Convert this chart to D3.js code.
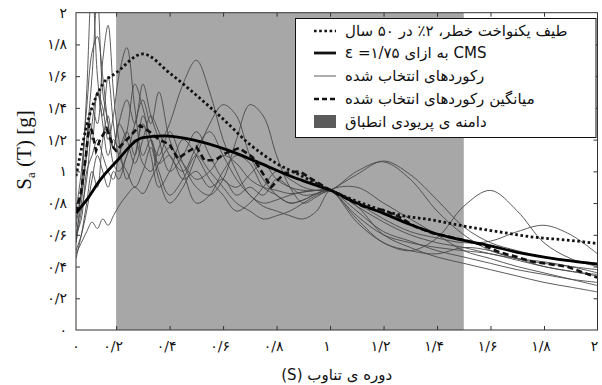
<!DOCTYPE html>
<html>
<head>
<meta charset="utf-8">
<script src="https://cdn.jsdelivr.net/npm/d3@7"></script>
<style>
  html, body { margin: 0; padding: 0; background: #fff; }
  svg { display: block; }
  .fa { font-family: "DejaVu Sans", sans-serif; }
</style>
</head>
<body>
<svg id="chart" width="602" height="385"></svg>
<script>
// Period axis (s) and spectral acceleration axis (g)
const xTicks = [0.05, 0.2, 0.4, 0.6, 0.8, 1.0, 1.2, 1.4, 1.6, 1.8, 2.0];
const xTickLabels = ["۰", "۰/۲", "۰/۴", "۰/۶", "۰/۸", "۱", "۱/۲", "۱/۴", "۱/۶", "۱/۸", "۲"];
const yTicks = [0, 0.2, 0.4, 0.6, 0.8, 1.0, 1.2, 1.4, 1.6, 1.8, 2.0];
const yTickLabels = ["۰", "۰/۲", "۰/۴", "۰/۶", "۰/۸", "۱", "۱/۲", "۱/۴", "۱/۶", "۱/۸", "۲"];

// Period range used for record matching
const matchRange = [0.2, 1.5];

// Uniform hazard spectrum (2% in 50 years)
const uhsT = [0.05, 0.1, 0.15, 0.2, 0.3, 0.4, 0.5, 0.6, 0.7, 0.8, 0.887, 1.0, 1.137, 1.26, 1.384, 1.496, 1.634, 1.758, 1.885, 2.0];
const uhsSa = [0.97, 1.35, 1.55, 1.62, 1.74, 1.62, 1.48, 1.33, 1.17, 1.05, 0.977, 0.882, 0.788, 0.725, 0.693, 0.656, 0.618, 0.586, 0.567, 0.545];

// Conditional mean spectrum (epsilon = 1.75)
const cmsT = [0.05, 0.09, 0.14, 0.2, 0.3, 0.376, 0.488, 0.615, 0.738, 0.86, 0.925, 1.0, 1.1, 1.2, 1.3, 1.4, 1.5, 1.6, 1.7, 1.8, 1.9, 2.0];
const cmsSa = [0.737, 0.82, 0.945, 1.06, 1.212, 1.223, 1.198, 1.135, 1.052, 0.964, 0.926, 0.882, 0.80, 0.735, 0.665, 0.605, 0.565, 0.53, 0.49, 0.46, 0.435, 0.415];

// Mean of the selected records
const meanT = [0.05, 0.07, 0.085, 0.1, 0.11, 0.125, 0.14, 0.165, 0.19, 0.2, 0.24, 0.29, 0.325, 0.36, 0.4, 0.43, 0.46, 0.5, 0.53, 0.57, 0.61, 0.66, 0.71, 0.74, 0.78, 0.83, 0.887, 0.925, 1.0, 1.07, 1.137, 1.2, 1.26, 1.32, 1.384, 1.5, 1.57, 1.634, 1.7, 1.758, 1.885, 1.94, 2.0];
const meanSa = [0.74, 0.88, 1.07, 1.3, 1.25, 1.13, 1.2, 1.27, 1.15, 1.13, 1.2, 1.29, 1.25, 1.2, 1.17, 1.08, 1.115, 1.155, 1.07, 1.07, 1.115, 1.147, 1.09, 1.01, 0.90, 0.99, 1.0, 0.958, 0.882, 0.82, 0.77, 0.756, 0.712, 0.65, 0.61, 0.567, 0.536, 0.49, 0.46, 0.43, 0.40, 0.366, 0.33];

// Selected ground-motion records (scaled), sampled at recPeriods
const recPeriods = [0.05, 0.07, 0.09, 0.11, 0.13, 0.15, 0.17, 0.19, 0.21, 0.24, 0.27, 0.3, 0.33, 0.36, 0.4, 0.45, 0.5, 0.55, 0.6, 0.65, 0.7, 0.75, 0.8, 0.85, 0.9, 0.95, 1.0, 1.1, 1.2, 1.3, 1.4, 1.5, 1.6, 1.7, 1.8, 1.9, 2.0];
const rec1 = [0.55, 0.9, 1.5, 2.2, 1.6, 1.3, 1.1, 1.2, 1.15, 1.25, 1.1, 1.35, 1.2, 1.05, 1.1, 0.95, 1.0, 0.9, 0.95, 0.85, 0.9, 0.85, 0.95, 0.9, 0.85, 0.86, 0.88, 0.7, 0.55, 0.5, 0.48, 0.52, 0.5, 0.45, 0.42, 0.4, 0.38];
const rec2 = [0.6, 0.8, 1.2, 1.6, 2.1, 1.5, 1.3, 1.05, 1.0, 1.1, 1.3, 1.45, 1.3, 1.5, 1.2, 1.0, 0.8, 0.85, 1.0, 1.1, 1.05, 0.9, 0.85, 0.8, 0.82, 0.86, 0.88, 0.78, 0.68, 0.6, 0.55, 0.52, 0.48, 0.45, 0.43, 0.4, 0.36];
const rec3 = [0.7, 0.85, 1.1, 1.4, 1.3, 1.7, 1.92, 1.5, 1.2, 0.95, 1.1, 1.3, 1.1, 0.9, 1.0, 1.2, 1.1, 0.95, 0.85, 0.75, 0.8, 0.9, 1.0, 0.95, 0.9, 0.88, 0.88, 1.0, 1.06, 0.95, 0.75, 0.6, 0.5, 0.45, 0.4, 0.37, 0.35];
const rec4 = [0.65, 0.9, 1.3, 1.2, 1.5, 1.4, 1.2, 1.35, 1.6, 1.78, 1.4, 1.1, 1.2, 1.0, 0.85, 0.95, 1.1, 1.0, 0.9, 0.8, 0.75, 0.7, 0.72, 0.75, 0.8, 0.85, 0.88, 0.98, 1.065, 0.98, 0.82, 0.65, 0.55, 0.5, 0.46, 0.44, 0.42];
const rec5 = [0.5, 0.6, 0.75, 0.95, 1.1, 1.0, 0.9, 1.0, 0.95, 1.1, 1.2, 1.05, 1.0, 1.15, 1.3, 1.55, 1.7, 1.5, 1.2, 1.0, 0.85, 0.8, 0.82, 0.85, 0.87, 0.88, 0.88, 0.72, 0.6, 0.55, 0.52, 0.5, 0.48, 0.44, 0.4, 0.37, 0.34];
const rec6 = [0.55, 0.75, 0.95, 1.3, 1.5, 1.35, 1.6, 1.3, 1.1, 1.0, 0.9, 1.0, 1.15, 0.95, 0.8, 0.9, 1.1, 1.3, 1.42, 1.35, 1.1, 0.95, 0.85, 0.8, 0.82, 0.86, 0.88, 0.68, 0.55, 0.5, 0.58, 0.78, 0.88, 0.75, 0.55, 0.45, 0.4];
const rec7 = [0.6, 0.7, 1.0, 1.1, 1.2, 1.1, 1.0, 0.95, 1.1, 1.25, 1.55, 1.4, 1.2, 1.1, 1.25, 1.05, 0.9, 0.85, 0.95, 1.2, 1.42, 1.35, 1.1, 0.9, 0.8, 0.84, 0.88, 0.8, 0.7, 0.62, 0.58, 0.55, 0.56, 0.62, 0.66, 0.6, 0.48];
const rec8 = [0.48, 0.55, 0.62, 0.68, 0.64, 0.7, 0.66, 0.72, 0.78, 0.85, 0.9, 0.86, 0.95, 1.05, 1.15, 1.05, 0.95, 1.0, 1.1, 1.05, 0.95, 0.9, 0.88, 0.86, 0.87, 0.88, 0.88, 0.75, 0.62, 0.56, 0.5, 0.46, 0.42, 0.38, 0.35, 0.32, 0.3];
const rec9 = [0.75, 1.0, 1.4, 1.75, 1.85, 1.6, 1.3, 1.15, 1.3, 1.2, 1.05, 1.2, 1.35, 1.25, 1.1, 1.0, 1.15, 1.25, 1.1, 0.95, 0.85, 0.78, 0.75, 0.72, 0.7, 0.75, 0.88, 0.9, 0.8, 0.7, 0.6, 0.5, 0.45, 0.4, 0.36, 0.32, 0.28];
const rec10 = [0.45, 0.6, 0.8, 1.0, 0.9, 1.2, 1.35, 1.15, 1.3, 1.45, 1.3, 1.55, 1.35, 1.2, 1.0, 1.1, 1.25, 1.1, 0.95, 0.9, 0.98, 1.05, 0.95, 0.9, 0.88, 0.88, 0.88, 0.78, 0.6, 0.52, 0.46, 0.42, 0.38, 0.34, 0.3, 0.27, 0.24];
const records = [rec1, rec2, rec3, rec4, rec5, rec6, rec7, rec8, rec9, rec10];

// Legend entries; the mixed-script entry is written in left-to-right display order
const legendLabels = [
  { text: "طیف یکنواخت خطر، ۲٪ در ۵۰ سال", rtl: true },
  { text: "ε =۱/۷۵  به ازای CMS", rtl: false },
  { text: "رکوردهای انتخاب شده", rtl: true },
  { text: "میانگین رکوردهای انتخاب شده", rtl: true },
  { text: "دامنه ی پریودی انطباق", rtl: true }
];
const xTitle = "(S) دوره ی تناوب";

// right-to-left embedding for Persian strings
const rtl = s => "\u202B" + s + "\u202C";

const svg = d3.select("#chart");
const margin = { left: 76, right: 4.5, top: 12.7, bottom: 55 };
const W = 602, H = 385;
const x = d3.scaleLinear().domain([0.05, 2]).range([margin.left, W - margin.right]);
const y = d3.scaleLinear().domain([0, 2]).range([H - margin.bottom, margin.top]);

const defs = svg.append("defs");
defs.append("clipPath").attr("id", "plotClip")
  .append("rect")
  .attr("x", x(0.05)).attr("y", y(2))
  .attr("width", x(2) - x(0.05)).attr("height", y(0) - y(2));

const plot = svg.append("g").attr("clip-path", "url(#plotClip)");

// shaded matching range
plot.append("rect")
  .attr("x", x(matchRange[0])).attr("y", y(2))
  .attr("width", x(matchRange[1]) - x(matchRange[0]))
  .attr("height", y(0) - y(2))
  .attr("fill", "#a7a7a7");

const toPts = (ts, vs) => ts.map((t, i) => [t, vs[i]]);
const lineSmooth = d3.line().x(d => x(d[0])).y(d => y(d[1])).curve(d3.curveCatmullRom.alpha(0.5));
const lineMono = d3.line().x(d => x(d[0])).y(d => y(d[1])).curve(d3.curveMonotoneX);
const lineStraight = d3.line().x(d => x(d[0])).y(d => y(d[1]));

// individual records
plot.selectAll("path.rec").data(records).join("path")
  .attr("class", "rec")
  .attr("d", r => lineSmooth(toPts(recPeriods, r)))
  .attr("fill", "none").attr("stroke", "#4a4a4a").attr("stroke-width", 0.9);

// mean of records
plot.append("path")
  .attr("d", lineStraight(toPts(meanT, meanSa)))
  .attr("fill", "none").attr("stroke", "#111").attr("stroke-width", 2.6)
  .attr("stroke-dasharray", "6,3.5");

// CMS
plot.append("path")
  .attr("d", lineMono(toPts(cmsT, cmsSa)))
  .attr("fill", "none").attr("stroke", "#000").attr("stroke-width", 2.8);

// UHS
plot.append("path")
  .attr("d", lineMono(toPts(uhsT, uhsSa)))
  .attr("fill", "none").attr("stroke", "#111").attr("stroke-width", 2.8)
  .attr("stroke-dasharray", "2.6,2.6");

// frame
svg.append("rect")
  .attr("x", x(0.05)).attr("y", y(2))
  .attr("width", x(2) - x(0.05)).attr("height", y(0) - y(2))
  .attr("fill", "none").attr("stroke", "#333").attr("stroke-width", 1);

// axes with inward ticks
const tickLen = 4;
const xb = svg.append("g").attr("transform", `translate(0,${y(0)})`)
  .call(d3.axisBottom(x).tickValues(xTicks.slice(1, -1)).tickSize(-tickLen).tickFormat(""));
const xt = svg.append("g").attr("transform", `translate(0,${y(2)})`)
  .call(d3.axisTop(x).tickValues(xTicks.slice(1, -1)).tickSize(-tickLen).tickFormat(""));
const yl = svg.append("g").attr("transform", `translate(${x(0.05)},0)`)
  .call(d3.axisLeft(y).tickValues(yTicks.slice(1, -1)).tickSize(-tickLen).tickFormat(""));
const yr = svg.append("g").attr("transform", `translate(${x(2)},0)`)
  .call(d3.axisRight(y).tickValues(yTicks.slice(1, -1)).tickSize(-tickLen).tickFormat(""));
[xb, xt, yl, yr].forEach(g => {
  g.select(".domain").remove();
  g.selectAll("line").attr("stroke", "#333");
});

// tick labels
svg.append("g").selectAll("text").data(xTicks).join("text")
  .attr("class", "fa")
  .attr("x", (d, i) => x(d) - (i === 0 ? 0 : 3))
  .attr("y", 351)
  .attr("text-anchor", "middle")
  .attr("font-size", 14)
  .attr("fill", "#111")
  .text((d, i) => xTickLabels[i]);

svg.append("g").selectAll("text").data(yTicks).join("text")
  .attr("class", "fa")
  .attr("x", 67)
  .attr("y", d => y(d) + 5)
  .attr("text-anchor", "end")
  .attr("font-size", 14)
  .attr("fill", "#111")
  .text((d, i) => yTickLabels[i]);

// axis titles
svg.append("text")
  .attr("class", "fa")
  .attr("x", (x(0.05) + x(2)) / 2)
  .attr("y", 380)
  .attr("text-anchor", "middle")
  .attr("font-size", 15)
  .attr("fill", "#111")
  .text(xTitle);

const yTitle = svg.append("text")
  .attr("transform", "translate(31,150) rotate(-90)")
  .attr("text-anchor", "middle")
  .attr("font-family", "'Liberation Serif', serif")
  .attr("font-size", 21)
  .attr("fill", "#111");
yTitle.append("tspan").text("S");
yTitle.append("tspan").attr("font-size", 13).attr("dy", 4).text("a");
yTitle.append("tspan").attr("dy", -4).text(" (T) [g]");

// legend
const lg = svg.append("g");
lg.append("rect")
  .attr("x", 295.5).attr("y", 18.5).attr("width", 300.5).attr("height", 119)
  .attr("fill", "#fff").attr("stroke", "#111").attr("stroke-width", 1);

const rowY = [31, 53, 76, 99, 122];
const sampleX = [314, 336];
const sampleStyles = [
  { w: 2.6, dash: "2.6,2.6" },
  { w: 2.8, dash: null },
  { w: 0.9, dash: null },
  { w: 2.6, dash: "5,3" }
];
sampleStyles.forEach((s, i) => {
  const ln = lg.append("line")
    .attr("x1", sampleX[0]).attr("x2", sampleX[1])
    .attr("y1", rowY[i]).attr("y2", rowY[i])
    .attr("stroke", i === 2 ? "#4a4a4a" : "#111").attr("stroke-width", s.w);
  if (s.dash) ln.attr("stroke-dasharray", s.dash);
});
lg.append("rect")
  .attr("x", sampleX[0]).attr("y", rowY[4] - 7)
  .attr("width", sampleX[1] - sampleX[0]).attr("height", 13)
  .attr("fill", "#5b5b5b");

lg.selectAll("text.lab").data(legendLabels).join("text")
  .attr("class", "lab fa")
  .attr("x", 345)
  .attr("y", (d, i) => rowY[i] + 5)
  .attr("text-anchor", "start")
  .attr("font-size", 15)
  .attr("fill", "#111")
  .text(d => d.rtl ? rtl(d.text) : d.text);
</script>
</body>
</html>
